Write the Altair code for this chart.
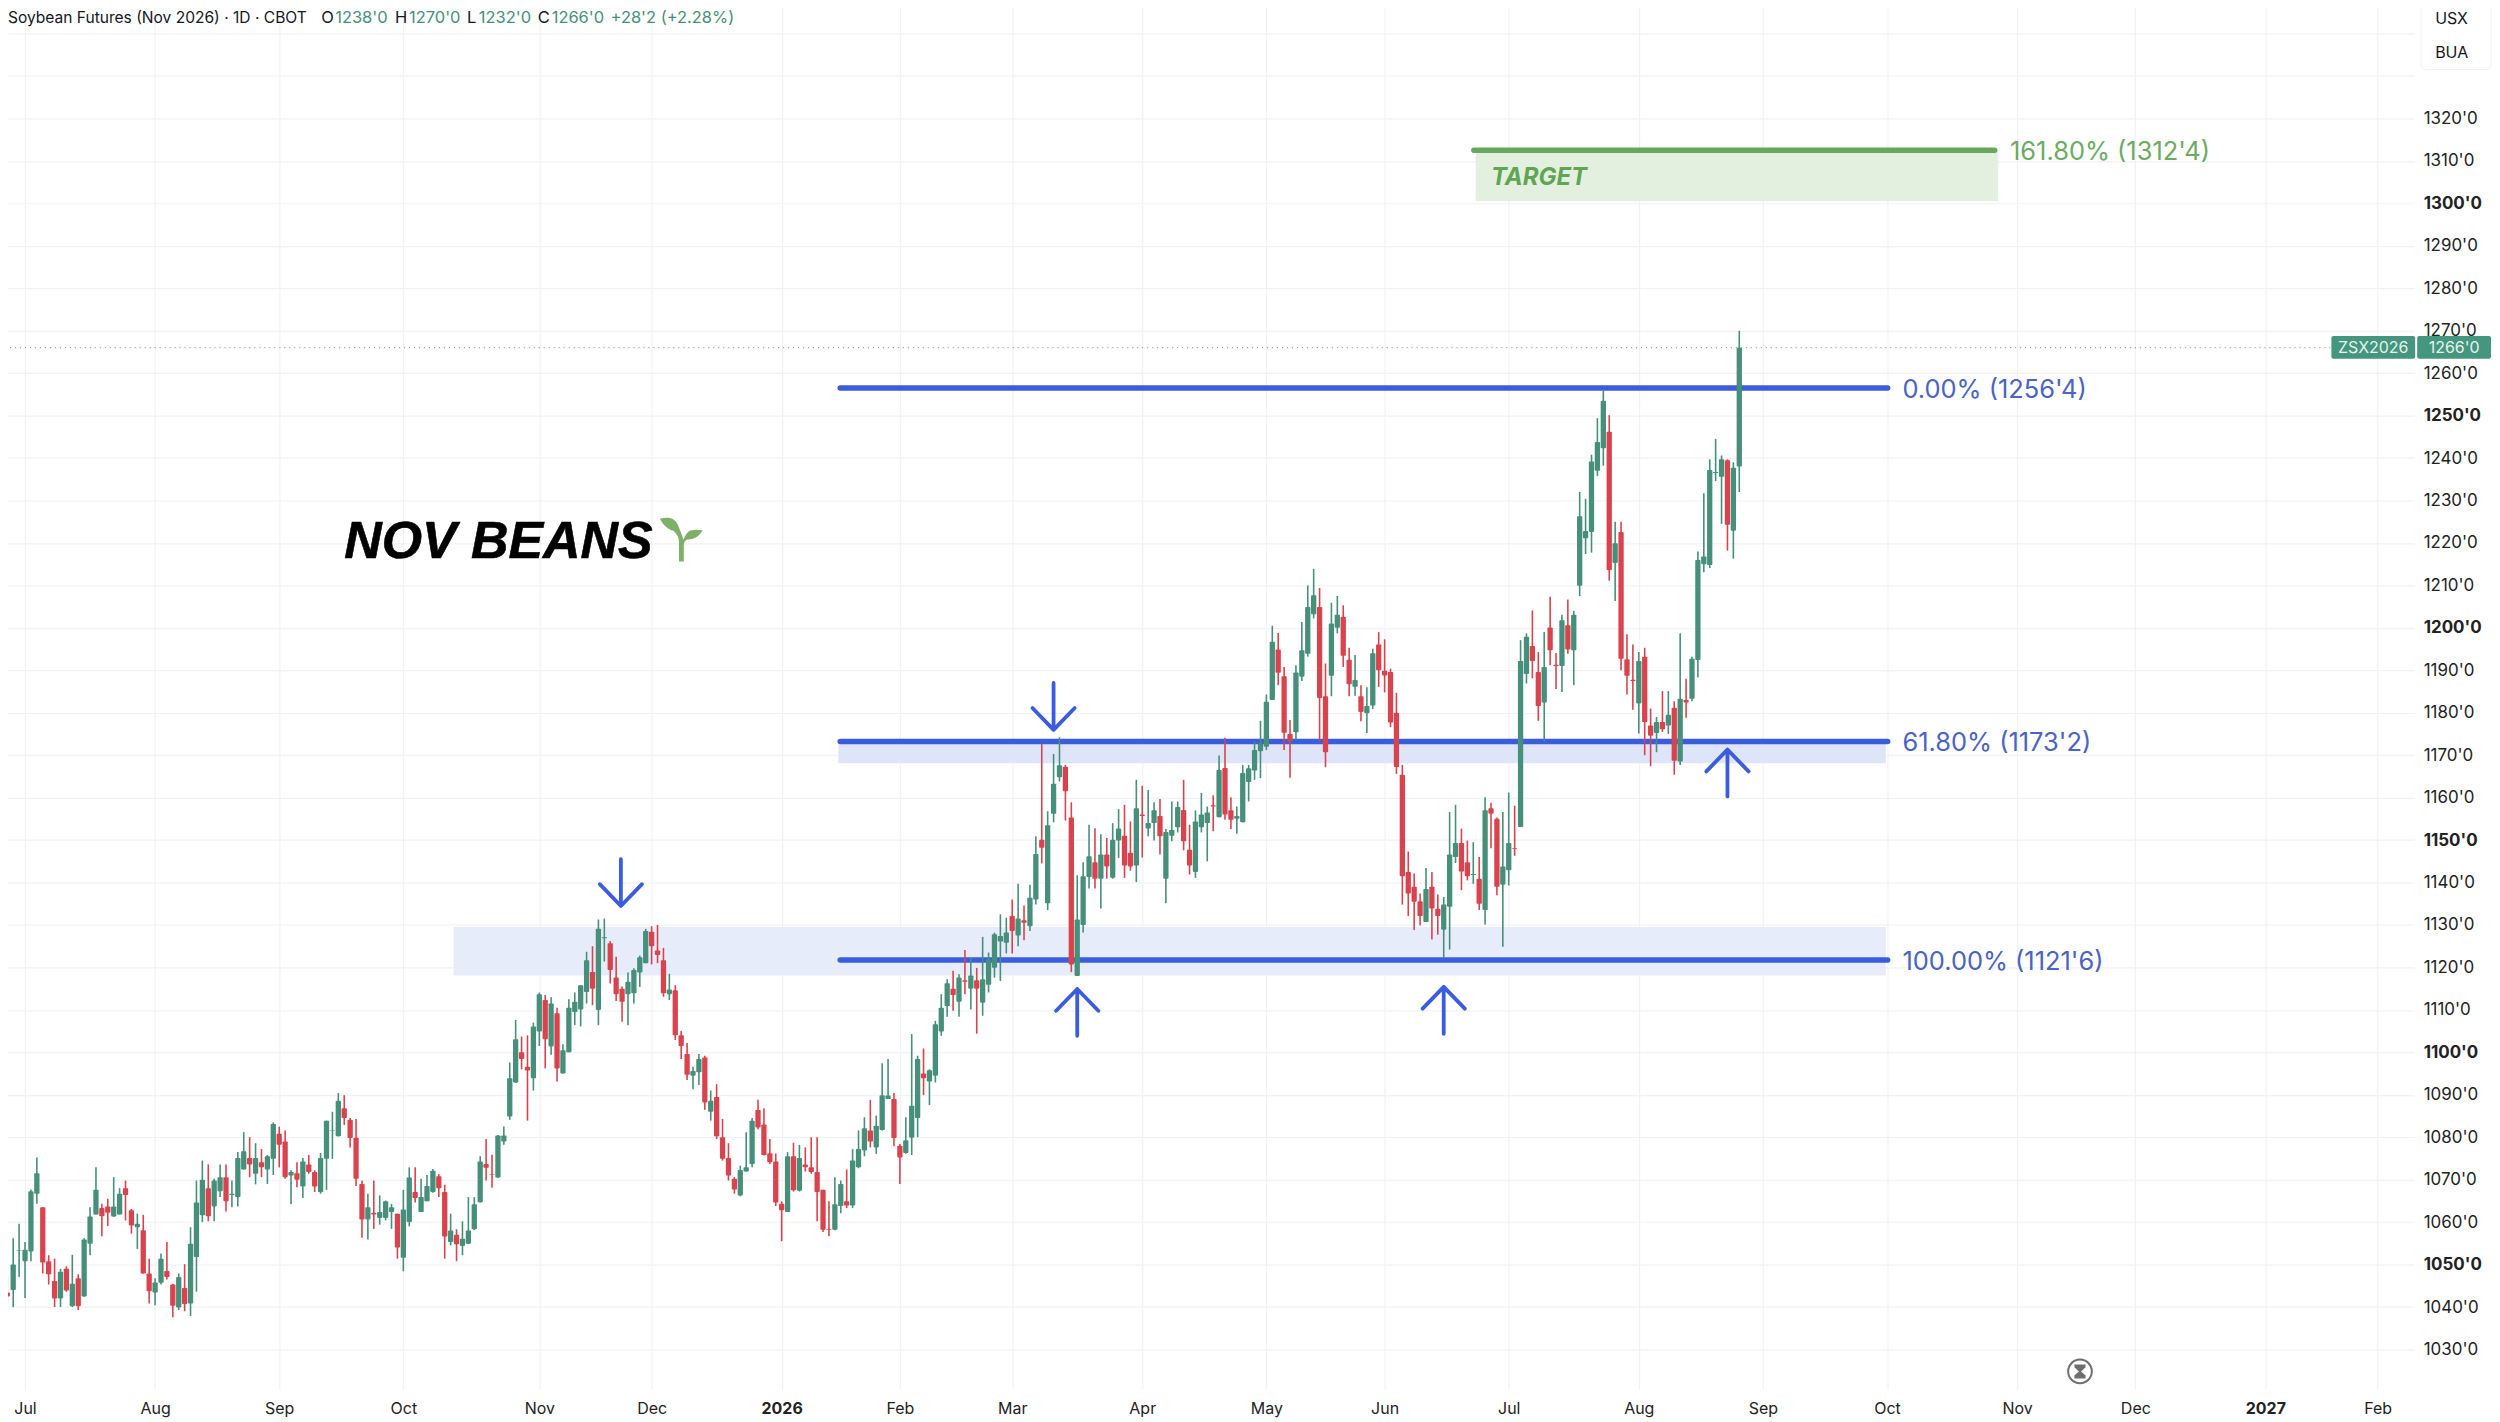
import altair as alt
import pandas as pd

# ---- candles (cents/bu) ----
DIRECTION = "".join([
    "RGGGGGRRRG", "RGRGGGRRGG", "RRGRRGGRRG", "RGGGRGGRGG", "GRGRGGRRGR",
    "GRRGGGGRRR", "RGRGGGRGGR", "GGGRRGRGGG", "GRRGGGGRRG", "GRGRGGGGGR",
    "GGRRRGGGGR", "RRGRRRGGRG", "RRRRGGGRRR", "RRGRGRRRRR", "GGRGGGRGGG",
    "RRGGGRGGGG", "RGRGRGGGGG", "RGRGGRGGGR", "RGGGRGRGGR", "RGRGGRGGGR",
    "RGGGRGRRGG", "GGGGGRRRGG", "GGRRGGRRGR", "GGRRRRRRRR", "GRRGGGRRGR",
    "GRRGGRGGRR", "GRRGRGGGGG", "GRGRRRGRRG", "RGRGRGGGGG", "GRGG",
])
BODY_TOP = [
    1043.4,1050.0,1053.3,1053.5,1067.3,1071.5,1063.5,1050.8,1046.1,1048.3,
    1049.0,1045.5,1046.8,1055.9,1061.3,1067.6,1063.3,1063.7,1063.7,1066.7,
    1068.0,1062.8,1059.6,1058.1,1047.9,1045.8,1051.4,1048.5,1045.3,1047.1,
    1044.5,1054.9,1064.6,1070.0,1068.0,1069.8,1070.6,1070.6,1066.7,1075.1,
    1076.7,1075.1,1075.1,1074.1,1075.5,1083.1,1080.8,1079.0,1071.8,1071.5,
    1074.3,1073.6,1071.8,1075.1,1083.9,1081.7,1088.6,1086.8,1084.1,1079.9,
    1069.0,1063.5,1062.2,1062.4,1064.9,1063.5,1062.0,1063.0,1070.5,1067.1,
    1065.9,1068.5,1072.1,1070.8,1067.1,1058.0,1057.0,1056.1,1058.0,1064.2,
    1074.3,1073.7,1071.2,1080.4,1080.4,1093.9,1103.1,1100.0,1096.6,1106.1,
    1113.7,1112.3,1111.5,1109.2,1100.5,1110.5,1111.9,1115.8,1121.7,1118.9,
    1129.1,1127.1,1125.7,1117.6,1115.0,1116.6,1119.4,1122.4,1128.6,1128.4,
    1124.0,1121.7,1114.8,1114.6,1104.0,1099.6,1095.6,1098.4,1098.8,1088.6,
    1089.5,1080.0,1075.1,1070.2,1072.3,1072.9,1083.9,1086.4,1083.0,1076.2,
    1074.3,1064.3,1075.5,1075.5,1075.1,1073.6,1072.9,1071.8,1067.6,1058.4,
    1064.2,1069.0,1064.9,1074.5,1077.2,1082.1,1081.6,1082.7,1089.9,1089.8,
    1089.0,1078.0,1079.3,1087.4,1098.4,1095.0,1095.8,1106.6,1110.5,1116.3,
    1115.0,1117.6,1117.0,1118.1,1117.0,1117.2,1121.9,1127.8,1127.4,1128.2,
    1132.1,1131.5,1131.1,1136.4,1146.7,1150.1,1153.5,1163.3,1167.6,1167.3,
    1155.3,1131.3,1141.5,1146.2,1144.8,1146.6,1146.6,1150.1,1152.7,1151.0,
    1147.0,1157.5,1156.0,1154.0,1157.0,1155.7,1151.9,1152.4,1157.8,1157.1,
    1147.7,1154.4,1156.0,1156.5,1158.2,1166.5,1167.0,1157.0,1155.7,1165.8,
    1166.9,1171.2,1172.8,1182.6,1196.7,1194.9,1188.6,1175.0,1189.5,1194.7,
    1204.9,1207.7,1204.9,1183.9,1201.0,1203.1,1202.6,1192.5,1187.7,1183.9,
    1181.6,1194.0,1196.1,1189.9,1189.6,1180.0,1165.4,1142.5,1139.0,1135.6,
    1138.5,1139.0,1133.8,1134.8,1146.6,1149.3,1149.3,1144.8,1142.0,1140.9,
    1157.0,1157.5,1155.0,1143.8,1149.3,1148.1,1192.2,1197.9,1195.7,1189.6,
    1190.8,1200.1,1191.3,1201.8,1200.6,1203.1,1226.3,1222.8,1239.2,1243.8,
    1253.5,1246.2,1219.9,1222.6,1192.6,1187.8,1192.2,1193.2,1177.0,1177.8,
    1177.8,1179.5,1181.2,1183.3,1183.0,1192.7,1216.0,1216.8,1237.2,1236.7,
    1239.7,1239.5,1237.7,1266.0,
]
BODY_BOTTOM = [
    1042.5,1044.0,1053.2,1050.8,1053.1,1066.7,1050.5,1047.7,1042.0,1042.0,
    1043.9,1040.2,1040.2,1042.5,1054.9,1061.8,1061.4,1062.2,1061.3,1061.8,
    1066.4,1059.2,1058.8,1047.9,1043.7,1043.4,1045.7,1047.1,1040.3,1039.9,
    1040.7,1040.8,1051.8,1061.6,1061.4,1063.7,1067.3,1064.9,1066.4,1065.9,
    1072.4,1073.6,1071.4,1072.9,1072.4,1074.9,1078.2,1070.6,1071.0,1070.0,
    1068.4,1071.8,1068.4,1067.1,1074.9,1081.6,1080.2,1084.5,1079.8,1070.2,
    1060.6,1060.6,1061.8,1061.0,1061.0,1062.4,1054.0,1051.6,1060.0,1065.7,
    1062.4,1064.9,1067.1,1068.0,1056.6,1055.3,1054.8,1054.4,1054.9,1058.3,
    1064.7,1072.8,1071.1,1070.5,1079.0,1084.9,1092.9,1098.4,1095.7,1093.9,
    1104.9,1103.1,1101.4,1096.2,1095.0,1100.0,1109.5,1110.1,1114.2,1115.0,
    1110.0,1126.9,1119.4,1113.7,1111.9,1113.7,1113.9,1118.8,1121.0,1125.0,
    1122.9,1113.9,1113.7,1104.0,1101.5,1094.7,1094.5,1095.3,1088.2,1086.0,
    1080.2,1074.9,1071.0,1067.7,1066.3,1071.9,1073.7,1082.3,1075.8,1074.1,
    1064.6,1062.8,1062.4,1067.5,1067.4,1072.9,1071.8,1067.1,1058.2,1058.2,
    1058.2,1063.8,1063.9,1063.9,1072.9,1076.9,1079.0,1077.6,1081.7,1089.0,
    1079.8,1075.2,1076.3,1079.9,1084.5,1093.9,1093.1,1094.5,1104.9,1110.9,
    1113.5,1111.9,1116.6,1115.0,1115.0,1111.7,1115.9,1119.9,1126.1,1125.8,
    1128.6,1127.5,1130.5,1129.7,1136.0,1148.2,1135.1,1156.2,1164.8,1161.5,
    1120.7,1118.0,1130.0,1141.3,1140.9,1140.9,1143.8,1141.1,1149.9,1144.0,
    1143.8,1144.0,1155.7,1152.7,1154.0,1150.9,1140.9,1151.0,1153.0,1149.7,
    1144.0,1142.5,1153.0,1154.0,1157.9,1155.4,1156.0,1154.8,1155.0,1154.2,
    1163.7,1166.4,1170.9,1172.0,1183.0,1189.4,1175.3,1173.2,1175.4,1188.5,
    1193.9,1203.2,1183.5,1170.7,1188.7,1200.0,1193.4,1186.7,1186.1,1180.2,
    1179.9,1181.7,1190.0,1188.8,1177.7,1167.2,1141.5,1137.4,1135.5,1132.1,
    1130.7,1133.9,1132.1,1128.9,1134.3,1146.0,1142.6,1141.5,1141.8,1135.0,
    1133.5,1156.2,1139.0,1139.5,1142.9,1147.9,1153.1,1189.1,1192.2,1181.6,
    1182.4,1194.7,1191.0,1191.0,1194.9,1194.7,1209.9,1221.1,1222.6,1237.0,
    1242.3,1213.6,1215.3,1192.7,1188.7,1187.5,1182.2,1177.8,1174.6,1175.2,
    1176.1,1177.0,1168.7,1168.5,1182.4,1183.3,1192.4,1215.0,1214.8,1236.5,
    1235.6,1224.3,1222.9,1238.0,
]
HIGH = [
    1047.5,1056.2,1059.6,1055.3,1067.7,1075.2,1063.5,1052.2,1051.4,1049.0,
    1049.6,1052.3,1047.7,1056.2,1063.5,1072.9,1064.3,1065.5,1070.6,1068.0,
    1069.8,1063.1,1062.0,1061.7,1051.4,1046.8,1052.6,1055.3,1045.5,1047.9,
    1050.1,1058.8,1069.8,1074.5,1073.6,1070.2,1073.6,1073.6,1069.8,1076.5,
    1081.2,1080.0,1078.6,1077.2,1075.8,1083.5,1082.5,1081.6,1072.2,1074.1,
    1075.1,1075.8,1072.2,1076.3,1083.9,1086.0,1090.4,1089.9,1084.5,1084.3,
    1069.8,1066.7,1069.8,1066.3,1065.1,1064.3,1062.0,1067.6,1072.9,1072.9,
    1070.2,1071.1,1072.5,1071.3,1068.8,1062.0,1058.3,1060.2,1065.9,1065.9,
    1075.5,1079.6,1075.9,1080.5,1082.5,1097.6,1107.6,1103.7,1104.0,1107.0,
    1114.1,1113.5,1113.0,1110.5,1101.9,1112.5,1114.1,1115.8,1123.7,1125.0,
    1131.3,1131.5,1126.2,1122.5,1115.5,1118.8,1119.8,1122.8,1129.1,1129.7,
    1130.0,1124.6,1118.5,1115.8,1105.0,1102.2,1096.6,1099.6,1099.2,1091.0,
    1092.5,1084.3,1078.6,1070.6,1073.3,1081.2,1084.5,1088.8,1086.8,1079.6,
    1076.2,1064.9,1076.5,1078.7,1078.2,1077.6,1080.0,1080.0,1067.6,1064.9,
    1070.6,1069.8,1072.4,1077.2,1081.6,1084.7,1088.8,1085.1,1097.4,1098.4,
    1090.4,1078.4,1084.7,1104.3,1099.2,1100.9,1096.0,1107.4,1113.7,1117.2,
    1119.2,1118.4,1124.1,1122.3,1119.9,1127.2,1123.5,1128.2,1132.5,1131.7,
    1136.0,1139.7,1134.6,1139.5,1150.9,1172.7,1156.8,1170.3,1174.2,1167.7,
    1158.9,1141.7,1144.8,1153.6,1152.8,1151.4,1150.5,1154.0,1157.3,1158.3,
    1154.4,1164.2,1162.8,1161.8,1158.9,1159.7,1152.6,1159.1,1159.1,1164.2,
    1153.6,1157.0,1161.1,1157.9,1160.5,1169.9,1174.1,1160.1,1157.9,1167.7,
    1167.7,1173.2,1178.1,1184.3,1200.5,1198.8,1190.8,1178.3,1191.2,1201.4,
    1210.0,1213.9,1209.4,1191.6,1205.9,1207.5,1205.3,1195.3,1193.6,1186.5,
    1186.0,1195.1,1199.0,1197.3,1190.4,1184.7,1167.7,1147.3,1142.1,1137.4,
    1143.4,1142.5,1137.2,1136.6,1156.6,1158.3,1152.7,1149.9,1149.5,1146.0,
    1160.1,1158.8,1155.3,1156.6,1161.2,1158.1,1197.1,1198.7,1204.1,1194.3,
    1199.0,1207.3,1194.1,1203.1,1206.7,1204.0,1232.0,1230.4,1240.8,1249.4,
    1256.0,1250.1,1225.0,1225.0,1198.5,1196.1,1194.3,1195.3,1181.0,1179.0,
    1185.1,1185.1,1182.7,1198.7,1188.0,1193.2,1218.0,1231.7,1239.7,1244.5,
    1240.6,1239.7,1239.0,1270.0,
]
LOW = [
    1040.4,1040.0,1047.1,1042.1,1050.8,1064.3,1047.9,1045.3,1040.0,1040.0,
    1043.6,1040.0,1039.3,1042.4,1052.2,1061.8,1056.7,1059.1,1061.2,1061.8,
    1060.4,1057.3,1053.7,1047.9,1040.8,1040.4,1045.3,1046.5,1037.6,1039.3,
    1039.0,1037.9,1043.6,1060.0,1060.2,1060.2,1065.9,1062.5,1063.5,1063.7,
    1072.4,1070.6,1068.9,1070.6,1069.0,1071.1,1072.9,1070.2,1064.2,1068.2,
    1065.7,1071.4,1067.1,1066.7,1067.6,1074.9,1080.2,1082.9,1077.6,1068.5,
    1056.3,1055.9,1058.4,1059.4,1060.4,1058.4,1051.4,1048.4,1059.0,1064.6,
    1062.4,1064.9,1066.9,1065.9,1051.4,1054.5,1050.8,1052.2,1054.8,1058.1,
    1064.6,1069.8,1068.1,1070.4,1078.2,1084.1,1092.8,1096.0,1083.9,1091.0,
    1101.5,1096.2,1099.4,1093.1,1095.0,1100.0,1106.4,1106.1,1111.5,1111.1,
    1106.4,1121.4,1116.2,1112.1,1107.2,1106.4,1111.5,1115.4,1121.0,1120.7,
    1121.0,1113.1,1112.3,1102.9,1098.4,1093.5,1091.3,1092.3,1086.5,1083.9,
    1079.6,1074.5,1069.8,1066.7,1066.1,1071.9,1072.9,1081.9,1075.7,1073.7,
    1063.8,1055.5,1062.4,1067.2,1067.2,1071.9,1071.4,1060.2,1057.7,1056.7,
    1058.1,1062.1,1063.3,1063.3,1072.7,1075.5,1077.6,1076.1,1081.6,1089.0,
    1077.9,1069.0,1076.1,1075.8,1080.0,1089.9,1087.6,1092.9,1103.9,1108.4,
    1109.8,1108.4,1113.7,1110.1,1104.4,1108.6,1114.1,1117.6,1116.8,1123.3,
    1123.3,1125.0,1126.4,1128.6,1134.8,1144.5,1133.5,1154.2,1163.8,1154.6,
    1118.9,1118.0,1128.2,1138.6,1138.6,1133.9,1140.9,1140.9,1145.8,1141.1,
    1142.8,1140.1,1145.9,1150.9,1149.9,1146.6,1135.1,1149.7,1151.8,1147.6,
    1141.9,1141.1,1151.8,1145.0,1152.1,1155.4,1154.8,1152.6,1151.5,1154.2,
    1159.1,1164.2,1164.6,1171.2,1183.0,1186.5,1171.2,1164.7,1173.6,1187.5,
    1193.2,1202.2,1173.2,1167.2,1183.9,1198.7,1190.8,1183.9,1184.0,1178.0,
    1175.2,1180.9,1186.1,1184.8,1176.6,1165.6,1134.8,1132.1,1128.8,1129.9,
    1130.7,1126.6,1127.7,1122.3,1124.2,1144.6,1138.2,1140.5,1139.7,1133.5,
    1130.1,1148.1,1137.0,1124.9,1139.3,1146.3,1153.1,1186.9,1188.1,1178.1,
    1173.2,1191.2,1185.6,1184.9,1193.9,1186.5,1207.5,1217.4,1217.7,1235.8,
    1238.2,1211.1,1206.3,1190.0,1184.3,1180.7,1175.1,1170.0,1167.4,1170.7,
    1175.5,1175.0,1165.4,1167.7,1178.8,1182.7,1188.3,1213.1,1214.1,1234.6,
    1224.5,1218.2,1216.3,1232.0,
]

# ---- axes ----
PRICE_TICKS = list(range(1030, 1350, 10))
MONTH_BARS = [3, 25, 46, 67, 90, 109, 131, 151, 170, 192, 213, 233, 254, 276, 297, 318, 340, 360, 382, 401]
MONTH_NAMES = ["Jul", "Aug", "Sep", "Oct", "Nov", "Dec", "2026", "Feb", "Mar", "Apr",
               "May", "Jun", "Jul", "Aug", "Sep", "Oct", "Nov", "Dec", "2027", "Feb"]

# ---- annotations (bar index / price) ----
FIB_PRICES = [1256.5, 1173.25, 1121.75]
FIB_TEXT = ["0.00% (1256'4)", "61.80% (1173'2)", "100.00% (1121'6)"]
ARROW_UP = {"bar": [181.0, 243.0, 291.0], "price": [1109.4, 1109.9, 1165.8]}
ARROW_DOWN = {"bar": [103.8, 177.0], "price": [1140.0, 1181.5]}

GREEN = "#468F7A"
RED = "#D8434D"
BLUE = "#3B5CDE"
BLUE_TXT = "#4A63C4"
LEAF = "#7FB069"
FONT = "Inter"

n = len(BODY_TOP)
candles = pd.DataFrame({
    "bar": list(range(n)),
    "top": BODY_TOP, "bottom": BODY_BOTTOM, "high": HIGH, "low": LOW,
    "dir": list(DIRECTION),
})
candles["open"] = candles["bottom"].where(candles["dir"] == "G", candles["top"])
candles["close"] = candles["top"].where(candles["dir"] == "G", candles["bottom"])

X = alt.Scale(domain=[-0.387, 406.33], nice=False, zero=False)
Y = alt.Scale(domain=[1020.6, 1347.5], nice=False, zero=False)
COL = alt.Scale(domain=["G", "R"], range=[GREEN, RED])

month_map = "{" + ",".join(f"'{b}':'{m}'" for b, m in zip(MONTH_BARS, MONTH_NAMES)) + "}"
x_axis = alt.Axis(
    values=MONTH_BARS, labelExpr=f"{month_map}[''+datum.value]", title=None, domain=False, ticks=False,
    grid=True, gridColor="#F1F2F5", gridWidth=1.2, labelFont=FONT, labelFontSize=16, labelColor="#222222",
    labelPadding=11, labelOverlap=False, labelFlush=False,
    labelFontWeight={"condition": {"test": "datum.value == 131 || datum.value == 382", "value": "bold"}, "value": "normal"},
)
y_axis = alt.Axis(
    values=PRICE_TICKS, orient="right", labelExpr="datum.value > 1320 ? '' : datum.value + \"'0\"", title=None,
    domain=False, ticks=False, grid=True, gridColor="#F1F2F5", gridWidth=1.2, labelFont=FONT, labelFontSize=17,
    labelColor="#222222", labelPadding=9, labelAlign="left", labelOverlap=False,
    labelFontWeight={"condition": {"test": "datum.value % 50 == 0", "value": "bold"}, "value": "normal"},
)

def xe(f="x"):
    return alt.X(f"{f}:Q", scale=X, axis=x_axis)

def ye(f="y"):
    return alt.Y(f"{f}:Q", scale=Y, axis=y_axis)

bands = alt.Chart(pd.DataFrame({
    "x": [75.5, 140.6, 248.4], "x2": [317.8, 317.8, 336.8],
    "y": [1129.5, 1173.25, 1312.5], "y2": [1118.1, 1168.1, 1300.5], "k": ["a", "b", "c"],
})).mark_rect().encode(
    x=xe(), x2="x2:Q", y=ye(), y2="y2:Q",
    color=alt.Color("k:N", legend=None, scale=alt.Scale(domain=["a", "b", "c"], range=["#E7ECFB", "#DFE5F9", "#E4F0DF"])),
)

fib_lines = alt.Chart(pd.DataFrame({"x": [140.9] * 3, "x2": [318.1] * 3, "y": FIB_PRICES})).mark_rule(
    color=BLUE, strokeWidth=5.5, strokeCap="round").encode(x=xe(), x2="x2:Q", y=ye())
target_line = alt.Chart(pd.DataFrame({"x": [248.1], "x2": [336.2], "y": [1312.5]})).mark_rule(
    color="#66A85D", strokeWidth=5.5, strokeCap="round").encode(x=xe(), x2="x2:Q", y=ye())

wicks = alt.Chart(candles).mark_rule(strokeWidth=1.6).encode(
    x=xe("bar"), y=ye("high"), y2="low:Q", color=alt.Color("dir:N", scale=COL, legend=None))
bodies = alt.Chart(candles).mark_bar(size=5.3, cornerRadius=0.8).encode(
    x=xe("bar"), y=ye("top"), y2="bottom:Q", color=alt.Color("dir:N", scale=COL, legend=None))

price_line = alt.Chart(pd.DataFrame({"y": [candles["close"].iloc[-1]]})).mark_rule(
    color="#77807C", strokeWidth=1, strokeDash=[1, 4]).encode(x=alt.value(0), x2=alt.value(2338), y=ye())

fib_labels = alt.Chart(pd.DataFrame({"x": [320.6] * 3, "y": FIB_PRICES, "t": FIB_TEXT})).mark_text(
    align="left", baseline="middle", dy=2, font=FONT, fontSize=25.5, color=BLUE_TXT).encode(x=xe(), y=ye(), text="t:N")
target_label = alt.Chart(pd.DataFrame({"x": [338.8], "y": [1312.5], "t": ["161.80% (1312'4)"]})).mark_text(
    align="left", baseline="middle", dy=2, font=FONT, fontSize=25.5, color="#6DAA62").encode(x=xe(), y=ye(), text="t:N")
target_word = alt.Chart(pd.DataFrame({"x": [251.0], "y": [1305.9], "t": ["TARGET"]})).mark_text(
    align="left", baseline="middle", font=FONT, fontSize=24, fontWeight="bold", fontStyle="italic", color="#5FA555"
).encode(x=xe(), y=ye(), text="t:N")
title_word = alt.Chart(pd.DataFrame({"x": [57.0], "y": [1216.4], "t": ["NOV BEANS"]})).mark_text(
    align="left", baseline="alphabetic", font="Liberation Sans", fontSize=52, fontWeight="bold", fontStyle="italic",
    color="#000000", stroke="#000000", strokeWidth=0.6).encode(x=xe(), y=ye(), text="t:N")

SPROUT = ("M-0.1,1 L-0.1,0.1 C-0.1,-0.1 -0.2,-0.25 -0.35,-0.4 C-0.6,-0.45 -0.85,-0.7 -0.97,-0.95 "
          "C-0.6,-1.05 -0.25,-1 -0.12,-0.6 C-0.05,-0.4 0.05,-0.2 0.1,0 C0.15,-0.05 0.2,-0.3 0.4,-0.4 "
          "C0.6,-0.48 0.8,-0.45 0.98,-0.42 C0.85,-0.2 0.65,0 0.3,0 C0.2,0 0.14,0.1 0.12,0.25 L0.12,1 Z")
sprout = alt.Chart(pd.DataFrame({"x": [114.0], "y": [1220.8]})).mark_point(
    shape=SPROUT, size=1936, filled=True, color=LEAF, opacity=1, strokeWidth=0).encode(x=xe(), y=ye())

UP = "M0,1 L0,-1 M-0.9,-0.07 L0,-1 L0.9,-0.07"
DOWN = "M0,-1 L0,1 M-0.9,0.07 L0,1 L0.9,0.07"
up = alt.Chart(pd.DataFrame(ARROW_UP)).mark_point(
    shape=UP, size=2209, filled=False, color=BLUE, opacity=1, strokeWidth=3.8, strokeCap="round", strokeJoin="round"
).encode(x=xe("bar"), y=ye("price"))
down = alt.Chart(pd.DataFrame(ARROW_DOWN)).mark_point(
    shape=DOWN, size=2209, filled=False, color=BLUE, opacity=1, strokeWidth=3.8, strokeCap="round", strokeJoin="round"
).encode(x=xe("bar"), y=ye("price"))

# ---- chart furniture (header, tag, panel) ----
HEADER_TEXT = ["Soybean Futures (Nov 2026) · 1D · CBOT", "O", "1238'0", "H", "1270'0", "L", "1232'0", "C", "1266'0", "+28'2 (+2.28%)"]
HEADER_X = [8, 322, 336, 396, 410, 468, 480, 539, 553, 612]
HEADER_SIZE = [15.6, 16.5, 16.5, 16.5, 16.5, 16.5, 16.5, 16.5, 16.5, 16.5]
HEADER_COL = ["#131722", "#131722", GREEN, "#131722", GREEN, "#131722", GREEN, "#131722", GREEN, GREEN]
header = alt.layer(*[
    alt.Chart(pd.DataFrame({"t": [t]})).mark_text(
        align="left", baseline="middle", font=FONT, fontSize=s, color=c
    ).encode(x=alt.value(hx), y=alt.value(16), text="t:N")
    for t, hx, s, c in zip(HEADER_TEXT, HEADER_X, HEADER_SIZE, HEADER_COL)
])

def pix_rect(x, x2, y, y2, **kw):
    return alt.Chart(pd.DataFrame({"a": [0]})).mark_rect(**kw).encode(
        x=alt.value(x), x2=alt.value(x2), y=alt.value(y), y2=alt.value(y2))

def pix_text(t, x, y, **kw):
    return alt.Chart(pd.DataFrame({"t": [t]})).mark_text(
        baseline="middle", font=FONT, **kw).encode(x=alt.value(x), y=alt.value(y), text="t:N")

furniture = alt.layer(
    pix_rect(2427, 2497, 1, 68, fill="#FFFFFF", stroke="#F0F1F3", cornerRadius=5),
    pix_text("USX", 2441, 17, align="left", fontSize=16, color="#131722"),
    pix_text("BUA", 2441, 51, align="left", fontSize=16, color="#131722"),
    pix_rect(2337, 2421, 335, 358, fill="#45967E", cornerRadius=2),
    pix_rect(2423, 2497, 335, 358, fill="#45967E", cornerRadius=2),
    pix_text("ZSX2026", 2379, 347, align="center", fontSize=16, color="#E4F3EE"),
    pix_text("1266'0", 2460, 347, align="center", fontSize=16, color="#E4F3EE"),
    alt.Chart(pd.DataFrame({"a": [0]})).mark_point(
        shape="circle", size=560, filled=False, color="#6E6E6E", strokeWidth=2, opacity=1
    ).encode(x=alt.value(2085), y=alt.value(1373)),
    alt.Chart(pd.DataFrame({"a": [0]})).mark_point(
        shape="M-0.8,-1 L0.8,-1 L0.8,-0.6 L0.15,0 L0.8,0.6 L0.8,1 L-0.8,1 L-0.8,0.6 L-0.15,0 L-0.8,-0.6 Z",
        size=196, filled=True, color="#6E6E6E", strokeWidth=0, opacity=1
    ).encode(x=alt.value(2085), y=alt.value(1373)),
)

chart = alt.layer(
    bands, fib_lines, target_line, wicks, bodies, price_line,
    fib_labels, target_label, target_word, title_word, sprout, up, down, header, furniture,
).resolve_scale(color="independent").properties(
    width=2420, height=1391,
    autosize=alt.AutoSizeParams(type="none"),
    padding={"left": -8, "top": -8, "right": 78, "bottom": 29},
    background="#FFFFFF",
).configure_view(stroke=None)

chart.save("out.html", embed_options={"renderer": "svg", "actions": False})
